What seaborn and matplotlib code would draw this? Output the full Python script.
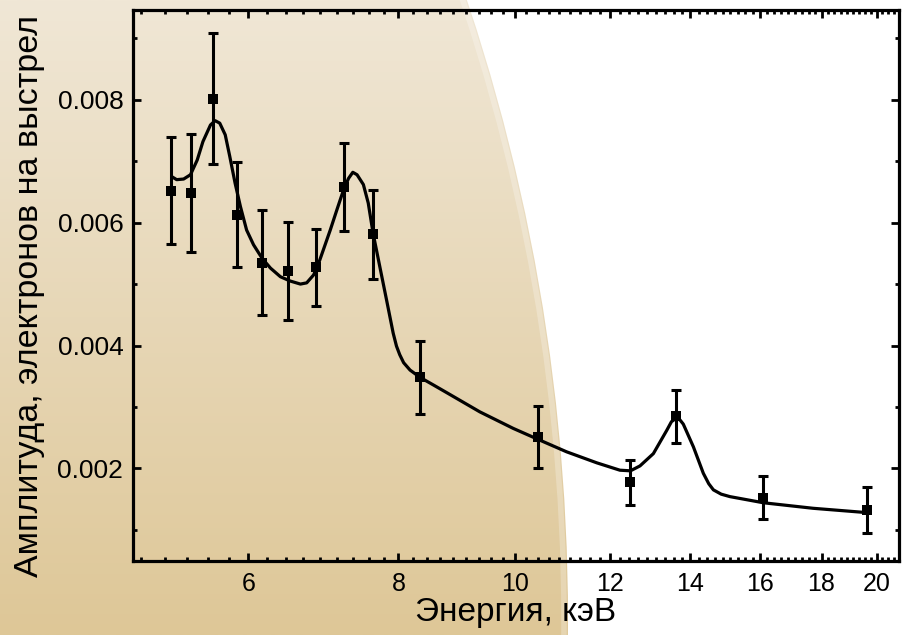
import numpy as np
import pandas as pd
import matplotlib
matplotlib.use("Agg")
import matplotlib.pyplot as plt
import seaborn as sns
from matplotlib.patches import Ellipse
from matplotlib.ticker import FixedLocator, FixedFormatter, NullFormatter

# ---------------- data ----------------
energy = [5.17, 5.38, 5.61, 5.87, 6.16, 6.48, 6.83, 7.21, 7.62, 8.34,
          10.46, 12.48, 13.61, 16.10, 19.62]
amplitude = [0.00652, 0.00648, 0.00802, 0.00613, 0.00535, 0.00521, 0.00527,
             0.00658, 0.00581, 0.00348, 0.00251, 0.00177, 0.00285, 0.00152,
             0.00132]
amp_err = [0.00087, 0.00096, 0.00107, 0.00085, 0.00085, 0.00080, 0.00063,
           0.00071, 0.00072, 0.00060, 0.00051, 0.00036, 0.00043, 0.00035,
           0.00038]

fit_energy = [5.18, 5.23, 5.30, 5.37, 5.44, 5.50, 5.58, 5.63, 5.68, 5.74,
              5.79, 5.85, 5.91, 5.98, 6.06, 6.16, 6.26, 6.38, 6.50, 6.63,
              6.71, 6.80, 6.88, 7.02, 7.11, 7.20, 7.27, 7.33, 7.39, 7.48,
              7.55, 7.62, 7.72, 7.82, 7.92, 7.97, 8.02, 8.08, 8.18, 8.34,
              8.55, 8.78, 9.35, 9.97, 10.46, 11.04, 11.70, 12.23, 12.48,
              12.71, 13.04, 13.38, 13.50, 13.61, 13.72, 13.81, 14.08, 14.35,
              14.50, 14.63, 14.85, 15.10, 16.10, 17.71, 19.62]
fit_amp = [0.00675, 0.00670, 0.00671, 0.00678, 0.00702, 0.00732, 0.00759,
           0.00766, 0.00762, 0.00743, 0.00708, 0.00664, 0.00626, 0.00588,
           0.00564, 0.00542, 0.00526, 0.00512, 0.00505, 0.00500, 0.00502,
           0.00515, 0.00539, 0.00588, 0.00621, 0.00653, 0.00672, 0.00682,
           0.00678, 0.00662, 0.00632, 0.00583, 0.00528, 0.00474, 0.00420,
           0.00399, 0.00385, 0.00372, 0.00360, 0.00348, 0.00336, 0.00323,
           0.00292, 0.00265, 0.00247, 0.00227, 0.00209, 0.00197, 0.00196,
           0.00204, 0.00224, 0.00262, 0.00276, 0.00281, 0.00279, 0.00272,
           0.00235, 0.00192, 0.00175, 0.00165, 0.00158, 0.00154, 0.00144,
           0.00135, 0.00128]

x_ticks = [6, 8, 10, 12, 14, 16, 18, 20]
x_tick_labels = ["6", "8", "10", "12", "14", "16", "18", "20"]
y_ticks = [0.002, 0.004, 0.006, 0.008]
y_tick_labels = ["0.002", "0.004", "0.006", "0.008"]

x_label = "Энергия, кэВ"
y_label = "Амплитуда, электронов на выстрел"

# ---------------- style ----------------
sns.set_style("ticks")
plt.rcParams["font.family"] = ["Liberation Sans", "DejaVu Sans"]
plt.rcParams["text.color"] = "black"
plt.rcParams["axes.labelcolor"] = "black"

W, H = 904, 635
fig = plt.figure(figsize=(W / 100, H / 100), dpi=100)
fig.patch.set_facecolor("white")

# background: large tan disc with vertical gradient
ax_bg = fig.add_axes([0, 0, 1, 1], zorder=-5)
ax_bg.set_xlim(0, 1)
ax_bg.set_ylim(0, 1)
ax_bg.axis("off")
top_c = np.array([240, 231, 214]) / 255
bot_c = np.array([222, 199, 151]) / 255
t = np.linspace(0, 1, 256)[:, None]
grad = (top_c[None, :] * (1 - t) + bot_c[None, :] * t)[:, None, :]
im = ax_bg.imshow(grad, extent=(0, 1, 0, 1), aspect="auto", origin="upper",
                  transform=ax_bg.transAxes, interpolation="bilinear")
R = 1953
disc = Ellipse((-1385 / W, 15 / H), 2 * R / W, 2 * R / H,
               transform=ax_bg.transAxes, facecolor="none", edgecolor="none")
ax_bg.add_patch(disc)
im.set_clip_path(disc)
rim = Ellipse((-1385 / W, 15 / H), 2 * (R - 4) / W, 2 * (R - 4) / H,
              transform=ax_bg.transAxes, facecolor="none",
              edgecolor=(1, 1, 1, 0.25), linewidth=4)
ax_bg.add_patch(rim)
rim.set_clip_path(disc)

# main axes
left, right, top, bottom = 133, 899, 9.5, 560.5
ax = fig.add_axes([left / W, 1 - bottom / H, (right - left) / W, (bottom - top) / H])
ax.set_facecolor("none")

ax.errorbar(energy, amplitude, yerr=amp_err, fmt="none", ecolor="black",
            elinewidth=2.2, capsize=3.8, capthick=2.2, zorder=3)
sns.lineplot(x=fit_energy, y=fit_amp, ax=ax, color="black", linewidth=2.3,
             estimator=None, sort=False, zorder=2)
sns.scatterplot(x=energy, y=amplitude, ax=ax, marker="s", s=60,
                color="black", edgecolor="black", linewidth=0, zorder=4)

ax.set_xscale("log")
ax.set_xlim(4.81, 20.88)
ax.set_ylim(0.0005, 0.00947)

ax.xaxis.set_major_locator(FixedLocator(x_ticks))
ax.xaxis.set_major_formatter(FixedFormatter(x_tick_labels))
minor_x = [4 + 2 * k / 9 for k in range(0, 9 * 9)]
minor_x = [v for v in minor_x if abs(v - round(v)) > 1e-6 or int(round(v)) % 2 == 1]
ax.xaxis.set_minor_locator(FixedLocator(minor_x))
ax.xaxis.set_minor_formatter(NullFormatter())

ax.yaxis.set_major_locator(FixedLocator(y_ticks))
ax.yaxis.set_major_formatter(FixedFormatter(y_tick_labels))
ax.yaxis.set_minor_locator(FixedLocator([0.001, 0.003, 0.005, 0.007, 0.009]))
ax.yaxis.set_minor_formatter(NullFormatter())

ax.tick_params(which="both", direction="in", top=True, right=True,
               colors="black", labelcolor="black", width=2.0)
ax.tick_params(which="major", length=5.5)
ax.tick_params(which="minor", length=2.6)
ax.tick_params(axis="x", which="major", labelsize=18, pad=8)
ax.tick_params(axis="y", which="major", labelsize=19, pad=7)

for sp in ax.spines.values():
    sp.set_visible(True)
    sp.set_linewidth(2.3)
    sp.set_color("black")

ax.set_xlabel(x_label, fontsize=24, color="black")
ax.set_ylabel(y_label, fontsize=24.5, color="black")
ax.xaxis.label.set_va("center")
ax.yaxis.label.set_va("center")
ax.xaxis.set_label_coords((516 - left) / (right - left), (bottom - 612) / (bottom - top))
ax.yaxis.set_label_coords((30 - left) / (right - left), (bottom - 296) / (bottom - top))

fig.savefig("out.png", dpi=100)
